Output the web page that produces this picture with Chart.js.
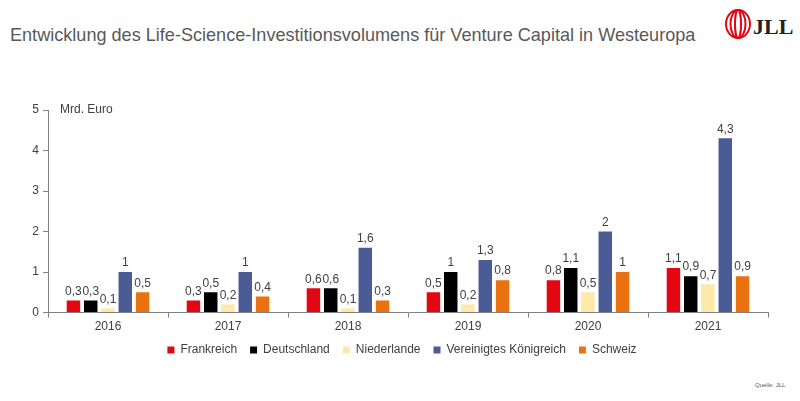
<!DOCTYPE html>
<html>
<head>
<meta charset="utf-8">
<script src="https://cdn.jsdelivr.net/npm/chart.js@4"></script>
<style>
  html, body { margin: 0; padding: 0; background: #fff; }
  #wrap { position: relative; width: 800px; height: 401px; overflow: hidden; }
  #title { position: absolute; left: 10px; top: 24px; font: 19px "Liberation Sans", Arial, sans-serif; color: #595959; white-space: nowrap; transform: scaleX(0.952); transform-origin: 0 0; }
  #logo { position: absolute; left: 724px; top: 8px; }
  #src { position: absolute; left: 755px; top: 382px; font: 6px "Liberation Sans", Arial, sans-serif; color: #595959; }
  canvas { position: absolute; left: 0; top: 0; }
</style>
</head>
<body>
<div id="wrap">
  <div id="title">Entwicklung des Life-Science-Investitionsvolumens für Venture Capital in Westeuropa</div>
  <svg id="logo" width="70" height="34" viewBox="0 0 70 34">
    <g fill="none" stroke="#e30613" stroke-width="2">
      <ellipse cx="14" cy="16" rx="12" ry="14"/>
      <ellipse cx="14" cy="16" rx="7.5" ry="14"/>
      <ellipse cx="14" cy="16" rx="3" ry="14"/>
    </g>
    <text x="29" y="26" font-family="Liberation Serif, serif" font-weight="bold" font-size="22" fill="#222">JLL</text>
  </svg>
  <div id="src">Quelle: JLL</div>
  <canvas id="chart" width="800" height="401"></canvas>
</div>
<script>
"use strict";

const years = ["2016", "2017", "2018", "2019", "2020", "2021"];
const frankreich = [0.3, 0.3, 0.6, 0.5, 0.8, 1.1];
const deutschland = [0.3, 0.5, 0.6, 1.0, 1.1, 0.9];
const niederlande = [0.1, 0.2, 0.1, 0.2, 0.5, 0.7];
const vereinigtesKoenigreich = [1.0, 1.0, 1.6, 1.3, 2.0, 4.3];
const schweiz = [0.5, 0.4, 0.3, 0.8, 1.0, 0.9];
const yTicks = [0, 1, 2, 3, 4, 5];

const series = [
    ["Frankreich", frankreich, "#e30613"],
    ["Deutschland", deutschland, "#000000"],
    ["Niederlande", niederlande, "#fde9a9"],
    ["Vereinigtes Königreich", vereinigtesKoenigreich, "#4b5b95"],
    ["Schweiz", schweiz, "#ea7110"]
];

const fmt = v => String(v).replace(".", ",");

// value labels above each bar
const valueLabels = {
    id: "valueLabels",
    afterDatasetsDraw(chart) {
        const ctx = chart.ctx;
        ctx.save();
        ctx.font = "12px 'Liberation Sans', Arial, sans-serif";
        ctx.fillStyle = "#404040";
        ctx.textAlign = "center";
        ctx.textBaseline = "bottom";
        chart.data.datasets.forEach((ds, i) => {
            chart.getDatasetMeta(i).data.forEach((bar, j) => {
                ctx.fillText(fmt(ds.data[j]), bar.x, bar.y - 3);
            });
        });
        ctx.restore();
    }
};

// "Mrd. Euro" unit label
const unitLabel = {
    id: "unitLabel",
    afterDraw(chart) {
        const ctx = chart.ctx;
        ctx.save();
        ctx.font = "12px 'Liberation Sans', Arial, sans-serif";
        ctx.fillStyle = "#404040";
        ctx.textBaseline = "middle";
        ctx.fillText("Mrd. Euro", chart.chartArea.left + 12, chart.scales.y.getPixelForValue(5));
        ctx.restore();
    }
};

// legend sits a bit right of centre in the original
const legendShift = {
    id: "legendShift",
    afterLayout(chart) {
        chart.legend.left += 18;
        chart.legend.right += 18;
        chart.legend.top -= 5;
        chart.legend.bottom -= 5;
    }
};

new Chart(document.getElementById("chart").getContext("2d"), {
    type: "bar",
    data: {
        labels: years,
        datasets: series.map(s => ({
            label: s[0],
            data: s[1],
            backgroundColor: s[2],
            borderWidth: 0,
            categoryPercentage: 0.72,
            barPercentage: 0.78
        }))
    },
    options: {
        responsive: false,
        animation: false,
        layout: { padding: { top: 110, right: 32, bottom: 30, left: 0 } },
        plugins: {
            title: { display: false },
            tooltip: { enabled: false },
            legend: {
                position: "bottom",
                labels: {
                    boxWidth: 7,
                    boxHeight: 7,
                    padding: 13,
                    color: "#404040",
                    font: { size: 12, family: "'Liberation Sans', Arial, sans-serif" }
                }
            }
        },
        scales: {
            x: {
                grid: { display: true, drawOnChartArea: false, drawTicks: true, tickLength: 5, color: "#808080", offset: true },
                border: { color: "#808080" },
                ticks: { color: "#404040", padding: 2, font: { size: 12, family: "'Liberation Sans', Arial, sans-serif" } }
            },
            y: {
                min: 0,
                max: 5,
                afterBuildTicks(scale) { scale.ticks = yTicks.map(v => ({ value: v })); },
                afterFit(scale) { scale.width = 48; },
                grid: { display: true, drawOnChartArea: false, drawTicks: true, tickLength: 5, color: "#808080" },
                border: { color: "#808080" },
                ticks: { color: "#404040", padding: 4, font: { size: 12, family: "'Liberation Sans', Arial, sans-serif" } }
            }
        }
    },
    plugins: [valueLabels, unitLabel, legendShift]
});
</script>
</body>
</html>
